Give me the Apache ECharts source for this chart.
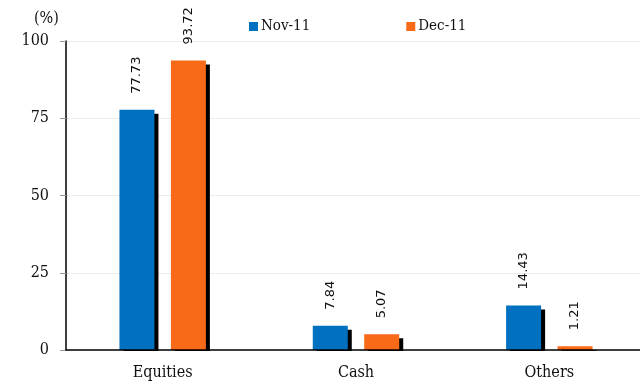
<!DOCTYPE html>
<html><head><meta charset="utf-8">
<script src="https://cdn.jsdelivr.net/npm/echarts@6/dist/echarts.min.js"></script>
<style>html,body{margin:0;padding:0;background:#fff}#c{width:640px;height:381px}</style>
</head><body><div id="c"></div>
<script>
var categories = ['Equities', 'Cash', 'Others'];
var nov11 = [77.73, 7.84, 14.43];
var dec11 = [93.72, 5.07, 1.21];
var seriesNames = ['Nov-11', 'Dec-11'];
var yTicks = [0, 25, 50, 75, 100];

var SERIF = 'DejaVu Serif Condensed, DejaVu Serif';
var chart = echarts.init(document.getElementById('c'), null, {renderer: 'canvas'});
function bar(name, data, color) {
  return {
    name: name, type: 'bar', data: data, barWidth: 35, barGap: '47%', z: 2,
    itemStyle: {color: color, shadowColor: '#000', shadowOffsetX: 4, shadowOffsetY: 4, shadowBlur: 0},
    label: {show: true, position: 'top', rotate: 90, align: 'left', verticalAlign: 'middle',
      distance: 16, fontFamily: 'DejaVu Sans', fontSize: 13, color: '#111',
      formatter: function (p) { return p.value.toFixed(2); }}
  };
}
chart.setOption({
  animation: false,
  grid: {left: 66, top: 41, bottom: 31, right: -6, containLabel: false, outerBoundsMode: 'none'},
  legend: {
    data: seriesNames, left: 244, top: 14, itemWidth: 9, itemHeight: 9, itemGap: 96, icon: 'rect',
    textStyle: {fontFamily: SERIF, fontSize: 15, color: '#111', padding: [0, 0, 0, -2]},
    itemStyle: {shadowBlur: 0, shadowColor: 'transparent', shadowOffsetX: 0, shadowOffsetY: 0}
  },
  xAxis: {
    type: 'category', data: categories, z: 10,
    axisLine: {lineStyle: {color: '#000', width: 1.5}},
    axisTick: {alignWithLabel: true, length: 6, lineStyle: {color: '#999'}},
    axisLabel: {fontFamily: SERIF, fontSize: 16, color: '#111', margin: 15}
  },
  yAxis: {
    type: 'value', min: 0, max: 100, interval: 25,
    axisLine: {show: true, lineStyle: {color: '#000', width: 1.5}},
    axisTick: {show: true, length: 6, lineStyle: {color: '#999'}},
    splitLine: {lineStyle: {color: '#ececec'}},
    axisLabel: {fontFamily: SERIF, fontSize: 16, color: '#111', margin: 17,
      formatter: function (v) { return yTicks.indexOf(v) >= 0 ? String(v) : ''; }}
  },
  series: [bar(seriesNames[0], nov11, '#0070C0'), bar(seriesNames[1], dec11, '#F86A17')]
});
// mask the part of the bar shadow that falls below the category axis
var y0 = chart.convertToPixel({yAxisIndex: 0}, 0);
chart.setOption({
  graphic: [
    {type: 'text', left: 34, top: 11, style: {text: '(%)', fontFamily: SERIF, fontSize: 16, fill: '#111'}},
    {type: 'rect', z: 5, shape: {x: 67, y: y0 + 1, width: 640, height: 6}, style: {fill: '#fff'}}
  ]
});
</script></body></html>
